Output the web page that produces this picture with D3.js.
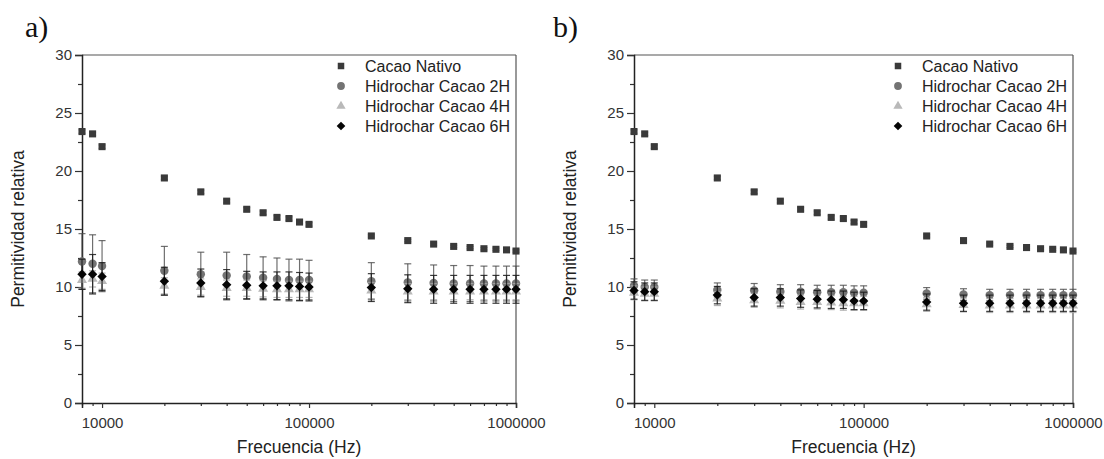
<!DOCTYPE html>
<html>
<head>
<meta charset="utf-8">
<script src="https://cdn.jsdelivr.net/npm/d3@7"></script>
<style>
    body { margin: 0; background: #fff; }
    svg { display: block; font-family: "Liberation Sans", Arial, sans-serif; }
</style>
</head>
<body>
<div id="chart"></div>
<script>
'use strict';

// frequencies (Hz), shared by both panels
const freq = [8000, 9000, 10000, 20000, 30000, 40000, 50000, 60000, 70000, 80000, 90000, 100000,
    200000, 300000, 400000, 500000, 600000, 700000, 800000, 900000, 1000000];

const seriesNames = ['Cacao Nativo', 'Hidrochar Cacao 2H', 'Hidrochar Cacao 4H', 'Hidrochar Cacao 6H'];

const nativo = [23.4, 23.2, 22.1, 19.4, 18.2, 17.4, 16.7, 16.4, 16.0, 15.9, 15.6, 15.4,
    14.4, 14.0, 13.7, 13.5, 13.4, 13.3, 13.25, 13.2, 13.1];
const nativoErr = [0.15, 0.15, 0.15, 0.15, 0.15, 0.15, 0.15, 0.15, 0.15, 0.15, 0.15, 0.15,
    0.1, 0.1, 0.1, 0.1, 0.1, 0.1, 0.1, 0.1, 0.1];

// panel a
const a2h = [12.2, 12.0, 11.8, 11.4, 11.1, 11.0, 10.9, 10.8, 10.7, 10.6, 10.6, 10.6,
    10.5, 10.4, 10.35, 10.3, 10.3, 10.3, 10.3, 10.3, 10.3];
const a2hErr = [2.4, 2.5, 2.2, 2.1, 1.9, 2.0, 1.9, 1.8, 1.8, 1.8, 1.8, 1.7,
    1.6, 1.6, 1.55, 1.55, 1.55, 1.5, 1.5, 1.5, 1.5];
const a4h = [10.6, 10.7, 10.5, 10.1, 10.0, 9.9, 9.9, 9.85, 9.8, 9.8, 9.8, 9.8,
    9.7, 9.6, 9.6, 9.6, 9.6, 9.6, 9.6, 9.6, 9.6];
const a4hErr = [0.7, 0.7, 0.7, 0.7, 0.7, 0.7, 0.7, 0.7, 0.7, 0.7, 0.7, 0.7,
    0.7, 0.7, 0.7, 0.7, 0.7, 0.7, 0.7, 0.7, 0.7];
const a6h = [11.1, 11.1, 10.9, 10.5, 10.35, 10.2, 10.15, 10.1, 10.1, 10.1, 10.05, 10.0,
    9.95, 9.85, 9.8, 9.8, 9.8, 9.8, 9.8, 9.8, 9.8];
const a6hErr = [1.3, 1.7, 1.2, 1.2, 1.2, 1.3, 1.2, 1.2, 1.2, 1.2, 1.2, 1.2,
    1.2, 1.2, 1.2, 1.2, 1.2, 1.2, 1.2, 1.2, 1.2];

// panel b
const b2h = [10.1, 10.0, 10.0, 9.75, 9.7, 9.6, 9.6, 9.55, 9.55, 9.55, 9.5, 9.5,
    9.45, 9.35, 9.3, 9.3, 9.3, 9.3, 9.3, 9.3, 9.3];
const b2hErr = [0.6, 0.6, 0.6, 0.6, 0.6, 0.6, 0.6, 0.6, 0.6, 0.6, 0.6, 0.6,
    0.5, 0.5, 0.5, 0.5, 0.5, 0.5, 0.5, 0.5, 0.5];
const b4h = [9.5, 9.4, 9.4, 9.0, 8.85, 8.8, 8.7, 8.7, 8.65, 8.6, 8.6, 8.6,
    8.5, 8.45, 8.4, 8.4, 8.4, 8.4, 8.4, 8.4, 8.4];
const b4hErr = [0.6, 0.6, 0.6, 0.6, 0.6, 0.6, 0.6, 0.6, 0.6, 0.6, 0.6, 0.6,
    0.6, 0.6, 0.6, 0.6, 0.6, 0.6, 0.6, 0.6, 0.6];
const b6h = [9.7, 9.6, 9.6, 9.3, 9.1, 9.1, 9.0, 8.95, 8.9, 8.9, 8.8, 8.8,
    8.7, 8.6, 8.6, 8.6, 8.6, 8.6, 8.6, 8.6, 8.6];
const b6hErr = [0.75, 0.75, 0.75, 0.75, 0.75, 0.75, 0.75, 0.75, 0.75, 0.75, 0.75, 0.75,
    0.7, 0.7, 0.7, 0.7, 0.7, 0.7, 0.7, 0.7, 0.7];

const yTicks = [0, 5, 10, 15, 20, 25, 30];
const yMinor = [2.5, 7.5, 12.5, 17.5, 22.5, 27.5];
const xTicks = [10000, 100000, 1000000];

// marker look per series (same order as seriesNames); diamond = square turned 45deg
const looks = [
    { symbol: d3.symbolSquare, size: 50, rot: 0, fill: '#3a3a3a', err: 'rgba(150,150,150,0.8)' },
    { symbol: d3.symbolCircle, size: 56, rot: 0, fill: '#737373', err: 'rgba(75,75,75,0.8)' },
    { symbol: d3.symbolTriangle, size: 44, rot: 0, fill: '#b9b9b9', err: 'rgba(165,165,165,0.85)' },
    { symbol: d3.symbolSquare, size: 44, rot: 45, fill: '#050505', err: 'rgba(25,25,25,0.85)' }
];

const W = 1104, H = 459;
const svg = d3.select('#chart').append('svg')
    .attr('width', W)
    .attr('height', H);

function drawPanel(p) {
    let x = d3.scaleLog().domain([8000, 1000000]).range([p.left, p.right]);
    let y = d3.scaleLinear().domain([0, 30]).range([p.bottom, p.top]);
    let g = svg.append('g');

    // panel letter
    g.append('text')
        .attr('x', p.labelX)
        .attr('y', 37)
        .style('font-family', '"Liberation Serif", "Times New Roman", serif')
        .style('font-size', '30px')
        .style('fill', '#111')
        .text(p.label);

    // frame (top / right thin)
    g.append('line')
        .attr('x1', p.left).attr('x2', p.right)
        .attr('y1', p.top).attr('y2', p.top)
        .attr('stroke', '#555').attr('stroke-width', 1.2);
    g.append('line')
        .attr('x1', p.right).attr('x2', p.right)
        .attr('y1', p.top).attr('y2', p.bottom)
        .attr('stroke', '#555').attr('stroke-width', 1.2);

    // axes
    let xMinorVals = freq.filter(f => !xTicks.includes(f));

    g.append('g')
        .attr('transform', `translate(0,${p.bottom})`)
        .call(d3.axisBottom(x).tickValues(xMinorVals).tickSize(3).tickFormat(''))
        .call(s => s.select('.domain').remove());

    g.append('g')
        .attr('transform', `translate(0,${p.bottom})`)
        .call(d3.axisBottom(x).tickValues(xTicks).tickSize(5).tickPadding(9).tickFormat(d3.format('d')))
        .call(s => s.select('.domain').attr('stroke', '#222').attr('stroke-width', 1.5));

    g.append('g')
        .attr('transform', `translate(${p.left},0)`)
        .call(d3.axisLeft(y).tickValues(yMinor).tickSize(4).tickFormat(''))
        .call(s => s.select('.domain').remove());

    g.append('g')
        .attr('transform', `translate(${p.left},0)`)
        .call(d3.axisLeft(y).tickValues(yTicks).tickSize(7).tickPadding(3))
        .call(s => s.select('.domain').attr('stroke', '#222').attr('stroke-width', 1.5));

    g.selectAll('.tick line').attr('stroke', '#333').attr('stroke-width', 1.2);
    g.selectAll('.tick text')
        .style('font-family', '"Liberation Sans", Arial, sans-serif')
        .style('font-size', '15px')
        .style('fill', '#333');

    // axis titles
    g.append('text')
        .attr('x', (p.left + p.right) / 2)
        .attr('y', 453)
        .attr('text-anchor', 'middle')
        .style('font-size', '17.5px')
        .style('fill', '#222')
        .text('Frecuencia (Hz)');

    g.append('text')
        .attr('transform', `translate(${p.left - 64},${(p.top + p.bottom) / 2}) rotate(-90)`)
        .attr('text-anchor', 'middle')
        .attr('dy', '0.35em')
        .style('font-size', '17.5px')
        .style('fill', '#222')
        .text('Permitividad relativa');

    // data
    let plot = g.append('g');
    p.series.forEach((s, i) => {
        let look = looks[i];
        let rows = freq.map((f, k) => ({ f, v: s.values[k], e: s.errs[k] }));
        let eb = plot.append('g')
            .attr('stroke', look.err)
            .attr('stroke-width', 1.2)
            .attr('fill', 'none');
        rows.forEach(d => {
            let cx = x(d.f);
            eb.append('line')
                .attr('x1', cx).attr('x2', cx)
                .attr('y1', y(d.v - d.e)).attr('y2', y(d.v + d.e));
            [d.v - d.e, d.v + d.e].forEach(v => {
                eb.append('line')
                    .attr('x1', cx - 3.5).attr('x2', cx + 3.5)
                    .attr('y1', y(v)).attr('y2', y(v));
            });
        });
        plot.append('g').selectAll('path')
            .data(rows)
            .join('path')
            .attr('d', d3.symbol().type(look.symbol).size(look.size))
            .attr('transform', d => `translate(${x(d.f)},${y(d.v)}) rotate(${look.rot})`)
            .attr('fill', look.fill);
    });

    // legend
    let leg = g.append('g');
    seriesNames.forEach((name, i) => {
        let ly = p.top + 11 + i * 20;
        leg.append('path')
            .attr('d', d3.symbol().type(looks[i].symbol).size(looks[i].size * 0.85))
            .attr('transform', `translate(${p.right - 175},${ly}) rotate(${looks[i].rot})`)
            .attr('fill', looks[i].fill);
        leg.append('text')
            .attr('x', p.right - 151)
            .attr('y', ly)
            .attr('dy', '0.36em')
            .style('font-size', '16px')
            .style('fill', '#222')
            .text(name);
    });
}

drawPanel({
    label: 'a)', labelX: 25,
    left: 82, right: 516, top: 55, bottom: 403,
    series: [
        { values: nativo, errs: nativoErr },
        { values: a2h, errs: a2hErr },
        { values: a4h, errs: a4hErr },
        { values: a6h, errs: a6hErr }
    ]
});

drawPanel({
    label: 'b)', labelX: 553,
    left: 634, right: 1073, top: 55, bottom: 403,
    series: [
        { values: nativo, errs: nativoErr },
        { values: b2h, errs: b2hErr },
        { values: b4h, errs: b4hErr },
        { values: b6h, errs: b6hErr }
    ]
});
</script>
</body>
</html>
